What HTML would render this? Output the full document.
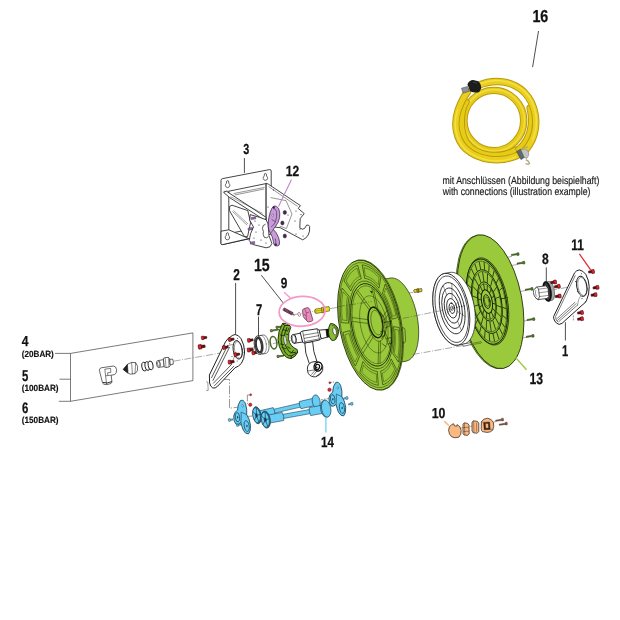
<!DOCTYPE html>
<html lang="de">
<head>
<meta charset="utf-8">
<title>Schlauchaufroller Explosionszeichnung</title>
<style>
html,body{margin:0;padding:0;background:#fff;}
body{width:620px;height:620px;overflow:hidden;}
svg{display:block;font-family:"Liberation Sans",sans-serif;}
text{text-rendering:geometricPrecision;}
</style>
</head>
<body>
<svg width="620" height="620" viewBox="0 0 620 620">
<rect width="620" height="620" fill="#fff"/>
<!-- 05_axes.svg -->
<g fill="none" stroke="#555" stroke-width=".5" stroke-dasharray="7 1.5 1 1.5">
  <path d="M173.6 361.2L254 347.2"/>
  <path d="M262 345.4L300 339"/>
  <path d="M293 314.8L313 311.4M330 308.6L340 307"/>
  <path d="M550 290.4L584 284.4"/>
  <path d="M506 257.6L512 256.4M512 265.4L518 264.4M521 291.4L526 290.4M522 321.4L528 320.4M521 338.2L527 337.2"/>
  <path d="M496 421.6L481 424.4M477 425.2L458 428.6"/>
</g>
<g fill="none" stroke="#444" stroke-width=".55" stroke-dasharray="9 1.5 1.5 1.5">
  <path d="M206.3 381.6L207.8 382.2L208.2 390.4L206.3 390.6" stroke-dasharray="none"/>
  <path d="M222 379.4H229.5V408.2L237.6 407.3"/>
  <path d="M250 395H247.4V404"/>
  <path d="M245.6 416.6L252.4 416"/>
  <path d="M573.4 315.4V320.6" stroke-dasharray="2 1"/>
  <path d="M329.8 382.6L334 382M320.8 399.8L330 398.4" stroke-dasharray="2 1"/>
</g>
<!-- 10_hose.svg -->
<defs>
  <filter id="hb" x="-10%" y="-10%" width="120%" height="120%"><feGaussianBlur stdDeviation=".55"/></filter>
</defs>
<g filter="url(#hb)">
<g fill="none" stroke-linecap="round">
  <!-- inner strand B -->
  <ellipse cx="493.8" cy="120.6" rx="29.9" ry="30.2" stroke="#b99a10" stroke-width="7.4"/>
  <ellipse cx="493.8" cy="120.6" rx="29.9" ry="30.2" stroke="#e6cb18" stroke-width="5.4"/>
  <ellipse cx="494.1" cy="120.3" rx="30.4" ry="30.7" stroke="#f3e04a" stroke-width="1.6" opacity=".8"/>
  <!-- middle strand C -->
  <path d="M466 102C460 112 459.6 130 466 142C476 157 500 159 516 150" stroke="#b99a10" stroke-width="7.2"/>
  <path d="M466 102C460 112 459.6 130 466 142C476 157 500 159 516 150" stroke="#e7cc18" stroke-width="5.2"/>
  <path d="M530 108C534 124 530 140 519 149" stroke="#b99a10" stroke-width="7.2"/>
  <path d="M530 108C534 124 530 140 519 149" stroke="#e7cc18" stroke-width="5.2"/>
  <!-- outer strand A -->
  <path d="M478 85.6C494 78.6 512 80.6 524 92C536 104 539 124 532 140C528 148 524 152 521 154" stroke="#b99a10" stroke-width="7.4"/>
  <path d="M478 85.6C494 78.6 512 80.6 524 92C536 104 539 124 532 140C528 148 524 152 521 154" stroke="#ead01a" stroke-width="5.4"/>
  <path d="M479 84.6C494 77.6 512 79.6 524.6 91.4C536.6 103.4 539.6 123.6 532.6 139.6" stroke="#f4e350" stroke-width="1.6" opacity=".85"/>
  <path d="M517 155.6C500 163 479 160.5 466 149C456 139.5 453.4 124 458.2 110C460.8 102.6 464 96.6 467.4 92" stroke="#b99a10" stroke-width="7.4"/>
  <path d="M517 155.6C500 163 479 160.5 466 149C456 139.5 453.4 124 458.2 110C460.8 102.6 464 96.6 467.4 92" stroke="#ead01a" stroke-width="5.4"/>
  <path d="M516 157C500 164 479 161.5 465.4 149.6C455.4 140 452.8 124 457.6 110" stroke="#f4e350" stroke-width="1.5" opacity=".8"/>
</g>
<!-- black coupling top-left -->
<path d="M461.5 88.2L467.5 86.4L469.4 91.2L463.2 93.2Z" fill="#8d9399" stroke="#3c4044" stroke-width=".5"/>
<path d="M467.4 84.4Q469 80.2 473.2 80L478.2 81.2Q481.6 84 481 88.8L479.2 92Q475 93.4 470.4 91.6Z" fill="#1a1a1a"/>
<path d="M473 82.2L477 83.2" stroke="#555" stroke-width=".6" fill="none"/>
<!-- metal coupling bottom-right -->
<path d="M516.6 151.6L520.4 149.2L524.8 157.2L521 159.6Z" fill="#5d6770" stroke="#2c3238" stroke-width=".5"/>
<path d="M520.8 149.6Q525.2 147.6 527.8 150.8Q530.2 155 526.6 158.4L524.4 157.6Z" fill="#c2c4c0" stroke="#6a6c68" stroke-width=".5"/>
<path d="M524.4 147.6Q526.8 146.2 528.2 148" stroke="#a8a27a" stroke-width="1.1" fill="none"/>
<path d="M525.8 159.6Q528.4 160.6 529.6 163.4Q527.4 164.8 525.6 163.6" stroke="#a8a27a" stroke-width="1.2" fill="none"/>
</g>
<!-- 20_flange_right.py -->
<ellipse cx="489.42" cy="301.93" rx="31.30" ry="67.90" transform="rotate(-10.90 489.42 301.93)" stroke-width=".6" fill="#9aca3b" stroke="#1a2606" stroke-linejoin="round"/>
<ellipse cx="490.60" cy="301.70" rx="31.30" ry="67.90" transform="rotate(-10.90 490.60 301.70)" stroke-width=".8" fill="#9aca3b" stroke="#1a2606" stroke-linejoin="round"/>
<ellipse cx="487.69" cy="301.45" rx="19.80" ry="44.30" transform="rotate(-10.90 487.69 301.45)" fill="#8fbf33" stroke-width=".7" stroke="#16220a" stroke-linejoin="round" stroke-linecap="round"/>
<ellipse cx="486.90" cy="301.60" rx="19.30" ry="43.19" transform="rotate(-10.90 486.90 301.60)" stroke-width="1" fill="#9aca3b" stroke="#16220a" stroke-linejoin="round" stroke-linecap="round"/>
<ellipse cx="486.90" cy="301.60" rx="18.41" ry="41.20" transform="rotate(-10.90 486.90 301.60)" stroke-width=".5" stroke="#16220a" fill="none" stroke-linejoin="round" stroke-linecap="round"/>
<ellipse cx="486.90" cy="301.60" rx="14.45" ry="32.34" transform="rotate(-10.90 486.90 301.60)" stroke-width="0.9" stroke="#16220a" fill="none" stroke-linejoin="round" stroke-linecap="round"/>
<ellipse cx="486.90" cy="301.60" rx="13.66" ry="30.57" transform="rotate(-10.90 486.90 301.60)" stroke-width="0.5" stroke="#16220a" fill="none" stroke-linejoin="round" stroke-linecap="round"/>
<ellipse cx="486.90" cy="301.60" rx="8.91" ry="19.93" transform="rotate(-10.90 486.90 301.60)" stroke-width="0.9" stroke="#16220a" fill="none" stroke-linejoin="round" stroke-linecap="round"/>
<ellipse cx="486.90" cy="301.60" rx="8.12" ry="18.16" transform="rotate(-10.90 486.90 301.60)" stroke-width="0.5" stroke="#16220a" fill="none" stroke-linejoin="round" stroke-linecap="round"/>
<ellipse cx="486.90" cy="301.60" rx="5.35" ry="11.96" transform="rotate(-10.90 486.90 301.60)" stroke-width="1.0" stroke="#16220a" fill="none" stroke-linejoin="round" stroke-linecap="round"/>
<ellipse cx="486.90" cy="301.60" rx="3.17" ry="7.09" transform="rotate(-10.90 486.90 301.60)" stroke-width="0.9" stroke="#16220a" fill="none" stroke-linejoin="round" stroke-linecap="round"/>
<ellipse cx="486.90" cy="301.60" rx="2.18" ry="4.87" transform="rotate(-10.90 486.90 301.60)" stroke-width="0.5" stroke="#16220a" fill="none" stroke-linejoin="round" stroke-linecap="round"/>
<path d="M479.28 262.01L480.62 268.97M484.12 262.48L484.61 269.36M489.14 265.61L488.75 271.94M494.02 271.20L492.77 276.54M498.41 278.86L496.39 282.86M502.02 288.06L499.36 290.44M504.59 298.19L501.48 298.79M505.96 308.55L502.61 307.33M506.03 318.44L502.67 315.48M504.80 327.18L501.65 322.68M502.35 334.18L499.63 328.45M498.84 338.96L496.74 332.39M494.52 341.19L493.18 334.23M489.68 340.72L489.19 333.84M484.66 337.59L485.05 331.26M479.78 332.00L481.03 326.66M475.39 324.34L477.41 320.34M471.78 315.14L474.44 312.76M469.21 305.01L472.32 304.41M467.84 294.65L471.19 295.87M467.77 284.76L471.13 287.72M469.00 276.02L472.15 280.52M471.45 269.02L474.17 274.75M474.96 264.24L477.06 270.81" stroke-width="0.8" stroke="#16220a" fill="none" stroke-linejoin="round" stroke-linecap="round"/>
<path d="M482.62 272.35L483.89 281.08M487.50 274.26L487.32 282.42M492.31 279.46L490.70 286.07M496.47 287.33L493.61 291.59M499.47 296.93L495.72 298.32M500.96 307.09L496.76 305.45M500.75 316.58L496.62 312.11M498.87 324.27L495.30 317.50M495.55 329.23L492.97 320.98M491.18 330.85L489.91 322.12M486.30 328.94L486.48 320.78M481.49 323.74L483.10 317.13M477.33 315.87L480.19 311.61M474.33 306.27L478.08 304.88M472.84 296.11L477.04 297.75M473.05 286.62L477.18 291.09M474.93 278.93L478.50 285.70M478.25 273.97L480.83 282.22" stroke-width="0.8" stroke="#16220a" fill="none" stroke-linejoin="round" stroke-linecap="round"/>
<path d="M483.55 284.20L484.55 289.42M487.26 285.27L487.15 290.17M490.89 289.58L489.69 293.19M493.74 296.27L491.69 297.87M495.23 304.01L492.73 303.29M495.07 311.28L492.62 308.37M493.29 316.63L491.38 312.12M490.25 319.00L489.25 313.78M486.54 317.93L486.65 313.03M482.91 313.62L484.11 310.01M480.06 306.93L482.11 305.33M478.57 299.19L481.07 299.91M478.73 291.92L481.18 294.83M480.51 286.57L482.42 291.08" stroke-width="0.8" stroke="#16220a" fill="none" stroke-linejoin="round" stroke-linecap="round"/>
<!-- 25_disc_white.py -->
<path d="M449.90 272.40 L451.73 272.25 L453.62 272.49 L455.55 273.13 L457.48 274.15 L459.41 275.55 L461.32 277.30 L463.17 279.39 L464.95 281.80 L466.64 284.50 L468.23 287.45 L469.69 290.64 L471.01 294.02 L472.17 297.55 L473.17 301.20 L473.98 304.93 L474.61 308.70 L475.04 312.46 L475.28 316.17 L475.30 319.80 L475.13 323.30 L474.76 326.63 L474.19 329.76 L473.43 332.66 L472.48 335.29 L471.37 337.63 L470.09 339.64 L468.67 341.31 L467.12 342.61 L465.46 343.54 L463.70 344.08 L458.20 345.14 L456.37 345.29 L454.48 345.05 L452.55 344.41 L450.62 343.39 L448.69 341.99 L446.78 340.24 L444.93 338.15 L443.15 335.74 L441.45 333.04 L439.87 330.09 L438.41 326.90 L437.09 323.52 L435.93 319.99 L434.93 316.34 L434.12 312.61 L433.49 308.84 L433.06 305.08 L432.82 301.37 L432.79 297.75 L432.97 294.25 L433.34 290.91 L433.91 287.78 L434.67 284.88 L435.62 282.25 L436.73 279.91 L438.01 277.90 L439.43 276.24 L440.98 274.93 L442.64 274.00 L444.40 273.46Z" stroke-width=".7" fill="#fff" stroke="#151515" stroke-linejoin="round"/>
<ellipse cx="451.30" cy="309.30" rx="17.50" ry="36.50" transform="rotate(-10.90 451.30 309.30)" stroke-width=".8" fill="#fff" stroke="#151515" stroke-linejoin="round"/>
<ellipse cx="451.69" cy="309.22" rx="15.75" ry="33.76" transform="rotate(-10.90 451.69 309.22)" stroke-width=".7" fill="#fff" stroke="#151515" stroke-linejoin="round"/>
<ellipse cx="452.20" cy="308.20" rx="12.20" ry="26.00" transform="rotate(-10.90 452.20 308.20)" stroke-width="0.8" fill="none" stroke="#151515" stroke-linejoin="round" stroke-linecap="round"/>
<ellipse cx="452.10" cy="308.22" rx="9.80" ry="20.50" transform="rotate(-10.90 452.10 308.22)" stroke-width="0.8" fill="none" stroke="#151515" stroke-linejoin="round" stroke-linecap="round"/>
<ellipse cx="452.00" cy="308.24" rx="7.40" ry="15.20" transform="rotate(-10.90 452.00 308.24)" stroke-width="0.8" fill="none" stroke="#151515" stroke-linejoin="round" stroke-linecap="round"/>
<ellipse cx="451.91" cy="308.26" rx="5.00" ry="9.90" transform="rotate(-10.90 451.91 308.26)" stroke-width="0.8" fill="none" stroke="#151515" stroke-linejoin="round" stroke-linecap="round"/>
<ellipse cx="451.91" cy="308.26" rx="2.70" ry="5.30" transform="rotate(-10.90 451.91 308.26)" stroke-width="0.8" fill="none" stroke="#151515" stroke-linejoin="round" stroke-linecap="round"/>
<ellipse cx="451.91" cy="308.26" rx="1.10" ry="2.20" transform="rotate(-10.90 451.91 308.26)" stroke-width="0.7" fill="none" stroke="#151515" stroke-linejoin="round" stroke-linecap="round"/>
<path d="M452.06 298.18L451.84 283.59M453.97 306.41L458.11 302.25M457.59 311.61L464.98 316.29M457.56 321.29L461.42 330.71M446.89 295.05L443.07 285.59M450.42 309.95L447.44 312.87" stroke-width=".45" fill="none" stroke="#151515" stroke-linejoin="round" stroke-linecap="round"/>
<circle cx="451.6" cy="303.2" r=".8" fill="#222"/>
<path d="M462.6 344.2L470.8 342.7Q472.2 343.4 471 344.6L463.2 346.3Z" stroke-width=".6" fill="#fff" stroke="#151515" stroke-linejoin="round"/>
<path d="M471 343.6L481 341.6Q482.6 342.3 481 343.2L471.6 344.6Z" fill="#9aca3b" stroke-width=".45" stroke="#25360a" stroke-linejoin="round" stroke-linecap="round"/>
<!-- 30_reel_left.py -->
<path d="M390.20 278.06 L392.22 277.91 L394.30 278.22 L396.42 278.97 L398.56 280.18 L400.70 281.81 L402.81 283.86 L404.87 286.30 L406.86 289.11 L408.75 292.25 L410.53 295.69 L412.17 299.39 L413.66 303.31 L414.98 307.41 L416.11 311.65 L417.05 315.97 L417.79 320.33 L418.30 324.68 L418.60 328.98 L418.68 333.18 L418.53 337.22 L418.15 341.08 L417.56 344.70 L416.76 348.04 L415.75 351.07 L414.55 353.76 L413.18 356.07 L411.63 357.98 L409.94 359.47 L408.13 360.53 L406.20 361.14 L384.60 365.30 L395.45 320.13 L368.60 282.22Z" stroke-width=".7" fill="#9aca3b" stroke="#1a2606" stroke-linejoin="round"/>
<ellipse cx="370.98" cy="324.91" rx="30.50" ry="66.00" transform="rotate(-10.90 370.98 324.91)" stroke-width=".6" fill="#9aca3b" stroke="#1a2606" stroke-linejoin="round"/>
<ellipse cx="370.00" cy="325.10" rx="30.50" ry="66.00" transform="rotate(-10.90 370.00 325.10)" stroke-width=".8" stroke="#1a2606" fill="#9aca3b" stroke-linejoin="round"/>
<ellipse cx="370.13" cy="325.07" rx="29.34" ry="63.49" transform="rotate(-10.90 370.13 325.07)" stroke-width=".5" fill="none" stroke="#25360a" stroke-linejoin="round" stroke-linecap="round"/>
<path d="M362.55 264.93 L364.35 265.21 L366.17 265.73 L368.00 266.46 L369.85 267.42 L371.69 268.60 L373.53 269.99 L375.36 271.58 L377.17 273.38 L378.96 275.38 L380.71 277.56 L379.06 288.21 L377.70 286.52 L376.32 284.97 L374.93 283.58 L373.51 282.35 L372.09 281.27 L370.66 280.36 L369.24 279.62 L367.82 279.05 L366.41 278.66 L365.02 278.44Z" stroke-width=".65" fill="#97c738" stroke="#25360a" stroke-linejoin="round" stroke-linecap="round"/>
<path d="M364.41 267.71 L365.87 268.07 L367.34 268.58 L368.81 269.24 L370.29 270.05 L371.77 271.01 L373.25 272.11 L374.71 273.35 L376.17 274.73 L377.61 276.24 L379.03 277.88 L378.21 284.72 L377.00 283.32 L375.77 282.03 L374.53 280.86 L373.27 279.80 L372.01 278.86 L370.75 278.04 L369.49 277.35 L368.23 276.79 L366.98 276.35 L365.74 276.04Z" stroke-width=".45" fill="none" stroke="#25360a" stroke-linejoin="round" stroke-linecap="round"/>
<path d="M385.32 284.51 L386.88 287.32 L388.39 290.27 L389.83 293.36 L391.19 296.57 L392.47 299.88 L393.67 303.29 L394.78 306.78 L395.80 310.34 L396.72 313.96 L397.54 317.62 L392.07 319.17 L391.43 316.34 L390.72 313.54 L389.94 310.79 L389.08 308.09 L388.15 305.46 L387.16 302.89 L386.10 300.42 L384.99 298.03 L383.83 295.75 L382.62 293.57Z" stroke-width=".65" fill="#97c738" stroke="#25360a" stroke-linejoin="round" stroke-linecap="round"/>
<path d="M386.03 288.41 L387.25 290.75 L388.42 293.18 L389.55 295.69 L390.63 298.28 L391.65 300.94 L392.61 303.67 L393.52 306.45 L394.37 309.29 L395.15 312.16 L395.87 315.07 L392.57 316.45 L391.96 313.96 L391.29 311.51 L390.57 309.09 L389.80 306.72 L388.97 304.39 L388.10 302.12 L387.18 299.91 L386.22 297.77 L385.22 295.70 L384.18 293.70Z" stroke-width=".45" fill="none" stroke="#25360a" stroke-linejoin="round" stroke-linecap="round"/>
<path d="M399.26 327.83 L399.68 331.52 L399.99 335.19 L400.19 338.82 L400.27 342.40 L400.24 345.91 L400.09 349.34 L399.83 352.68 L399.46 355.92 L398.98 359.04 L398.39 362.03 L392.73 353.49 L393.18 351.18 L393.55 348.77 L393.84 346.27 L394.04 343.69 L394.15 341.04 L394.18 338.32 L394.11 335.56 L393.96 332.75 L393.72 329.92 L393.40 327.06Z" stroke-width=".65" fill="#97c738" stroke="#25360a" stroke-linejoin="round" stroke-linecap="round"/>
<path d="M398.48 330.56 L398.75 333.50 L398.95 336.43 L399.07 339.32 L399.11 342.17 L399.08 344.98 L398.97 347.74 L398.78 350.43 L398.52 353.06 L398.19 355.62 L397.78 358.09 L394.20 353.15 L394.55 351.04 L394.84 348.86 L395.06 346.62 L395.22 344.32 L395.31 341.96 L395.34 339.57 L395.30 337.13 L395.20 334.66 L395.03 332.17 L394.80 329.66Z" stroke-width=".45" fill="none" stroke="#25360a" stroke-linejoin="round" stroke-linecap="round"/>
<path d="M396.22 369.53 L395.24 371.94 L394.17 374.17 L393.01 376.22 L391.77 378.07 L390.44 379.72 L389.04 381.16 L387.56 382.40 L386.02 383.41 L384.42 384.21 L382.76 384.78 L380.65 371.08 L381.93 370.64 L383.16 370.02 L384.35 369.24 L385.49 368.29 L386.58 367.17 L387.61 365.89 L388.57 364.46 L389.47 362.88 L390.29 361.16 L391.05 359.29Z" stroke-width=".65" fill="#97c738" stroke="#25360a" stroke-linejoin="round" stroke-linecap="round"/>
<path d="M394.48 369.47 L393.65 371.29 L392.75 373.00 L391.79 374.57 L390.77 376.02 L389.70 377.33 L388.58 378.50 L387.42 379.53 L386.20 380.41 L384.95 381.15 L383.65 381.74 L382.15 373.32 L383.25 372.82 L384.33 372.19 L385.36 371.44 L386.36 370.56 L387.32 369.56 L388.23 368.44 L389.09 367.21 L389.91 365.86 L390.68 364.41 L391.39 362.85Z" stroke-width=".45" fill="none" stroke="#25360a" stroke-linejoin="round" stroke-linecap="round"/>
<path d="M377.97 385.17 L376.17 384.89 L374.35 384.38 L372.51 383.64 L370.67 382.68 L368.82 381.51 L366.98 380.12 L365.15 378.52 L363.34 376.72 L361.56 374.72 L359.81 372.54 L362.90 361.62 L364.26 363.30 L365.63 364.85 L367.03 366.24 L368.45 367.48 L369.87 368.55 L371.30 369.46 L372.72 370.20 L374.14 370.77 L375.55 371.16 L376.94 371.38Z" stroke-width=".65" fill="#97c738" stroke="#25360a" stroke-linejoin="round" stroke-linecap="round"/>
<path d="M376.38 382.34 L374.92 381.98 L373.45 381.47 L371.98 380.80 L370.50 379.99 L369.02 379.04 L367.55 377.94 L366.08 376.70 L364.62 375.32 L363.18 373.81 L361.76 372.17 L363.47 365.16 L364.69 366.56 L365.92 367.85 L367.16 369.02 L368.41 370.08 L369.67 371.02 L370.93 371.83 L372.19 372.52 L373.45 373.09 L374.70 373.53 L375.94 373.83Z" stroke-width=".45" fill="none" stroke="#25360a" stroke-linejoin="round" stroke-linecap="round"/>
<path d="M355.20 365.60 L353.63 362.78 L352.13 359.83 L350.69 356.74 L349.33 353.53 L348.04 350.22 L346.85 346.81 L345.73 343.32 L344.72 339.76 L343.80 336.14 L342.98 332.48 L349.89 330.65 L350.53 333.48 L351.24 336.28 L352.02 339.03 L352.88 341.73 L353.81 344.37 L354.80 346.93 L355.85 349.41 L356.96 351.79 L358.13 354.08 L359.34 356.25Z" stroke-width=".65" fill="#97c738" stroke="#25360a" stroke-linejoin="round" stroke-linecap="round"/>
<path d="M354.77 361.64 L353.55 359.30 L352.37 356.87 L351.24 354.36 L350.17 351.77 L349.14 349.10 L348.18 346.38 L347.27 343.59 L346.42 340.76 L345.64 337.89 L344.92 334.98 L349.11 333.43 L349.72 335.91 L350.39 338.36 L351.11 340.78 L351.89 343.16 L352.71 345.48 L353.58 347.75 L354.50 349.96 L355.46 352.11 L356.47 354.18 L357.51 356.18Z" stroke-width=".45" fill="none" stroke="#25360a" stroke-linejoin="round" stroke-linecap="round"/>
<path d="M341.25 322.27 L340.83 318.58 L340.53 314.91 L340.33 311.28 L340.25 307.70 L340.28 304.19 L340.42 300.76 L340.68 297.42 L341.05 294.18 L341.53 291.06 L342.12 288.07 L349.23 296.33 L348.78 298.64 L348.40 301.05 L348.12 303.55 L347.92 306.13 L347.81 308.79 L347.78 311.50 L347.85 314.27 L348.00 317.07 L348.24 319.91 L348.56 322.76Z" stroke-width=".65" fill="#97c738" stroke="#25360a" stroke-linejoin="round" stroke-linecap="round"/>
<path d="M342.31 319.49 L342.04 316.55 L341.84 313.62 L341.72 310.73 L341.68 307.87 L341.71 305.07 L341.82 302.31 L342.01 299.61 L342.27 296.99 L342.60 294.43 L343.01 291.96 L347.48 296.73 L347.13 298.84 L346.85 301.02 L346.62 303.26 L346.47 305.56 L346.37 307.91 L346.35 310.31 L346.38 312.74 L346.48 315.21 L346.65 317.70 L346.88 320.22Z" stroke-width=".45" fill="none" stroke="#25360a" stroke-linejoin="round" stroke-linecap="round"/>
<path d="M344.30 280.57 L345.27 278.16 L346.34 275.93 L347.50 273.88 L348.75 272.03 L350.08 270.38 L351.48 268.94 L352.96 267.70 L354.50 266.69 L356.10 265.90 L357.75 265.33 L361.31 278.75 L360.03 279.19 L358.80 279.80 L357.61 280.58 L356.46 281.54 L355.38 282.65 L354.35 283.93 L353.39 285.36 L352.49 286.94 L351.67 288.67 L350.91 290.53Z" stroke-width=".65" fill="#97c738" stroke="#25360a" stroke-linejoin="round" stroke-linecap="round"/>
<path d="M346.31 280.58 L347.14 278.76 L348.04 277.05 L349.00 275.47 L350.02 274.03 L351.09 272.72 L352.21 271.55 L353.38 270.52 L354.59 269.63 L355.85 268.90 L357.14 268.31 L359.53 276.55 L358.43 277.05 L357.36 277.68 L356.32 278.44 L355.32 279.32 L354.37 280.32 L353.46 281.43 L352.59 282.67 L351.77 284.01 L351.01 285.47 L350.29 287.02Z" stroke-width=".45" fill="none" stroke="#25360a" stroke-linejoin="round" stroke-linecap="round"/>
<ellipse cx="371.12" cy="324.88" rx="20.59" ry="44.55" transform="rotate(-10.90 371.12 324.88)" stroke-width=".6" fill="none" stroke="#25360a" stroke-linejoin="round" stroke-linecap="round"/>
<ellipse cx="371.25" cy="324.86" rx="19.37" ry="41.91" transform="rotate(-10.90 371.25 324.86)" stroke-width=".9" stroke="#1d2a08" fill="none" stroke-linejoin="round" stroke-linecap="round"/>
<ellipse cx="371.57" cy="324.80" rx="18.30" ry="39.60" transform="rotate(-10.90 371.57 324.80)" stroke-width=".45" fill="none" stroke="#25360a" stroke-linejoin="round" stroke-linecap="round"/>
<path d="M371.74 287.93L375.86 306.86M373.66 289.30L377.78 308.23M386.79 311.08L382.88 316.68M387.91 314.76L384.00 320.36M390.44 344.54L384.98 331.92M389.90 347.77L384.45 335.14M379.92 363.13L380.57 341.10M378.14 363.47L378.79 341.44M363.17 352.84L372.98 337.31M361.48 350.04L371.29 334.52M352.79 321.43L367.92 323.41M352.47 317.59L367.60 319.59M356.61 292.54L369.20 309.85M357.89 290.56L370.48 307.88" stroke-width=".55" fill="none" stroke="#25360a" stroke-linejoin="round" stroke-linecap="round"/>
<ellipse cx="373.88" cy="324.35" rx="13.42" ry="29.04" transform="rotate(-10.90 373.88 324.35)" stroke-width=".45" fill="none" stroke="#25360a" stroke-linejoin="round" stroke-linecap="round"/>
<ellipse cx="376.34" cy="323.88" rx="8.24" ry="17.82" transform="rotate(-10.90 376.34 323.88)" stroke-width=".5" fill="none" stroke="#25360a" stroke-linejoin="round" stroke-linecap="round"/>
<ellipse cx="375.60" cy="322.60" rx="7.00" ry="15.40" transform="rotate(-10.90 375.60 322.60)" stroke-width="1.3" stroke="#161f05" fill="#9aca3b" stroke-linejoin="round" stroke-linecap="round"/>
<ellipse cx="376.60" cy="322.60" rx="5.40" ry="12.60" transform="rotate(-10.90 376.60 322.60)" stroke-width=".5" fill="none" stroke="#25360a" stroke-linejoin="round" stroke-linecap="round"/>
<path d="M380.6 312.6L384.8 318.8L386.6 326.6L385.4 333.6L381.6 338.6M383.6 322.6L388.6 321.6L389.4 326.4L385.8 327.6M380.6 331.6L384.2 330.6L385.2 335.2L382 336.6M386.6 338.6L391.4 337.4L392 343L388 344M382 343.6L386 346.6" stroke-width=".6" stroke="#1d2a08" fill="none" stroke-linejoin="round" stroke-linecap="round"/>
<path d="M369.6 290.6L372.6 291.8L371.8 293.4Z" fill="#161f05"/>
<path d="M402.4 327.6Q404.6 327 405 330L405.6 340.6Q405.2 343.6 403.2 343.2" stroke-width=".6" fill="none" stroke="#25360a" stroke-linejoin="round" stroke-linecap="round"/>
<!-- 35_axes_over.svg -->
<g fill="none" stroke="#555" stroke-width=".5" stroke-dasharray="7 1.5 1 1.5">
  <path d="M402.7 318.4L450.5 308.7"/>
  <path d="M412.8 354.5L462.6 345.6"/>
  <path d="M409 293L413.6 292.2"/>
  <path d="M337.9 306.6L371.8 301.6" stroke="#33470f" stroke-width=".45"/>
</g>
<!-- 40_bracket.svg -->
<g stroke-width=".8" fill="#fff" stroke="#151515" stroke-linejoin="round">
  <!-- wall plate -->
  <path d="M222.6 178.6L269.6 169.6Q271.2 169.4 271.2 171V234L222.6 244.6Q221 244.9 221 243.4V180.4Q221 178.9 222.6 178.6Z"/>
  <!-- top bar lower edge / opening -->
  <path d="M228.8 191.2L266 183.6V226L228.8 233.6Z" fill="#fff"/>
  <path d="M223.6 191.4L228.8 191.2M233.5 193.6L264.6 187.4M234.6 195L264.2 189"  fill="none" stroke-width=".45"/>
  <!-- far side plate (right arm) -->
  <path d="M266.2 183.2L268.4 184.2L300.4 205.6L298.2 208.4L304.2 213.6L300.2 218.6L299.8 227.8Q302.6 230.4 304.6 228.4L306.6 225.2Q308.4 224.2 309.6 226.4Q310.2 231.4 308.2 235Q306 238.8 302.6 239.8L280 227.6L266.2 226.4Z"/>
  <path d="M268.6 186.6L297.6 206.4" fill="none" stroke-width=".45"/>
  <path d="M270.6 197.6L286 200.6L292 214L286.4 228.6L279.6 226" fill="none" stroke-width=".45"/>
  <!-- gusset -->
  <path d="M229.6 206.4L232 205.2L247.8 210.6L250.6 222.6L247.6 236.4L244.6 236.8L229.6 210.8Z"/>
  <path d="M232.4 211.4L247.2 225.2M233.4 210.4L248 224" fill="none" stroke-width=".4"/>
  <!-- diagonal brace -->
  <path d="M223.6 192.4L226.4 191.2L266.2 217.4L264.8 220.6L256 214.6L229.6 197.6Z"/>
  <path d="M230.4 196.6L262.6 213.4" fill="none" stroke-width=".4"/>
  <!-- bottom bar -->
  <path d="M221 231.2L228.8 229.8L248.8 238.6L222.6 244.6Q221 244.9 221 243.4Z"/>
  <!-- near side plate -->
  <path d="M250.2 214.6L259.4 217.3L266.1 219.7L268.1 224L269 235.7L271.9 243.4L270 246.8L266.1 247.8L252.6 244.4L249.2 240.5L250.6 233.7L253.5 227L249.7 220.2Z"/>
  <path d="M263.2 225.6Q261.6 228.6 263.4 231.4Q262.4 234.6 264.4 237.4Q266.6 238.6 268.6 236.6M263.2 225.6L265.6 224.2" fill="none" stroke-width=".7"/>
</g>
<!-- keyholes -->
<g stroke-width=".65" fill="#fff" stroke="#151515" stroke-linejoin="round">
  <path d="M226.7 181.0Q227.6 180.0 228.5 181.0L228.8 183.2Q230.0 184.2 229.8 185.8Q229.2 187.6 227.6 187.6Q226.0 187.6 225.4 185.8Q225.2 184.2 226.4 183.2Z"/>
  <path d="M264.5 173.8Q265.4 172.8 266.3 173.8L266.6 176.0Q267.8 177.0 267.6 178.6Q267.0 180.4 265.4 180.4Q263.8 180.4 263.2 178.6Q263.0 177.0 264.2 176.0Z"/>
  <path d="M226.5 233.2Q227.4 232.2 228.3 233.2L228.6 235.4Q229.8 236.4 229.6 238.0Q229.0 239.8 227.4 239.8Q225.8 239.8 225.2 238.0Q225.0 236.4 226.2 235.4Z"/>
</g>
<!-- small holes on plates -->
<g fill="#222">
  <circle cx="255" cy="221" r=".6"/><circle cx="259" cy="225" r=".6"/><circle cx="256" cy="232" r=".6"/><circle cx="261" cy="240" r=".6"/><circle cx="266" cy="243" r=".6"/><circle cx="254" cy="238" r=".6"/>
  <circle cx="296" cy="211" r=".6"/><circle cx="301" cy="214.6" r=".6"/><circle cx="295" cy="221" r=".6"/><circle cx="300" cy="229" r=".6"/><circle cx="296" cy="234" r=".6"/><circle cx="303" cy="236" r=".6"/><circle cx="288" cy="215" r=".6"/>
  <circle cx="273.5" cy="190" r=".6"/><circle cx="268" cy="207" r=".6"/>
</g>
<!-- purple lever (12) -->
<g fill="#c89cd8" stroke="#3a1f4c" stroke-width=".75" stroke-linejoin="round">
  <path d="M273.8 206Q276.6 205.4 278.6 208.4Q280.4 212.6 279.6 217.6Q278.6 222.6 275.6 226.4Q273.8 228.4 273.4 229.4Q276.6 232.4 278.6 237.6Q280.2 242.4 279.2 245Q277.4 246.6 275.2 245.8Q273.6 244.8 273.4 241.6Q272.6 236.4 270.4 233.2Q268.4 230.6 268.2 226.4Q268 218.6 270.2 212.2Q271.8 207.4 273.8 206Z"/>
  <path d="M273 208.4Q275.6 208.4 276.6 211.6Q277.2 216.6 275.6 221.4Q274 225.4 271.2 226.8M270.4 233.2Q272.6 231.4 273.4 229.4M275.2 238.4Q276.6 242 275.2 245.8M271.6 219.4L275.4 221.8" fill="none" stroke-width=".6"/>
  <ellipse cx="272.8" cy="215.2" rx=".8" ry="1.3" fill="#fff" stroke-width=".45"/>
  <path d="M272.6 206.8L274.6 206.2L275 208.2L273 208.6Z" fill="#3a1f4c" stroke="none"/>
  <path d="M274.4 244L276.6 243.6L277 245.6L275 246Z" fill="#3a1f4c" stroke="none"/>
</g>
<!-- purple screws / rivets -->
<g fill="#9a6cae" stroke="#3a1f48" stroke-width=".45">
  <path d="M251.2 217.6L255.6 216.8L255.8 218.8L251.4 219.6Z"/>
  <path d="M248 228.2L252.4 227.4L252.6 229.4L248.2 230.2Z"/>
  <path d="M250.2 242.2L254.6 241.4L254.8 243.4L250.4 244.2Z"/>
  <ellipse cx="284.8" cy="212.4" rx="1.7" ry="2" fill="#3f2a4a"/>
  <ellipse cx="282.4" cy="223" rx="1.7" ry="2" fill="#3f2a4a"/>
  <ellipse cx="284.8" cy="236" rx="1.7" ry="2" fill="#3f2a4a"/>
</g>
<!-- 50_left_parts.py -->
<path d="M235.1 334.5Q238.6 334.9 241 338.6Q244.4 344.6 244.6 352Q244.4 359 241.4 363.4Q238.6 366.6 235 367.8L217.6 386.2Q215.4 388.6 212.8 388Q210.4 386.8 209.6 383L209.4 375L225.4 342Q227.6 338.4 230.4 336.8Q232.8 334.9 235.1 334.5Z" stroke-width=".95" fill="#fff" stroke="#151515" stroke-linejoin="round"/>
<ellipse cx="237.70" cy="349.80" rx="4.50" ry="9.40" transform="rotate(-9.00 237.70 349.80)" stroke-width=".9" fill="#fff" stroke="#151515" stroke-linejoin="round"/>
<ellipse cx="238.30" cy="349.90" rx="3.70" ry="8.40" transform="rotate(-9.00 238.30 349.90)" stroke-width=".4" fill="none" stroke="#151515" stroke-linejoin="round" stroke-linecap="round"/>
<path d="M227.6 345.6L211.6 377.6M229.4 347.4L213 380.4M233.6 366.4L214.6 385.6M231.4 364.6L213.4 383.2" stroke-width=".7" fill="none" stroke="#151515" stroke-linejoin="round" stroke-linecap="round"/>
<path d="M227.6 345.6L232.4 344.6M231.4 364.6L234.6 356" stroke-width=".45" fill="none" stroke="#151515" stroke-linejoin="round" stroke-linecap="round"/>
<g fill="#333"><circle cx="237.6" cy="338.2" r=".5"/><circle cx="243" cy="352.2" r=".5"/><circle cx="237.2" cy="361" r=".5"/><circle cx="229.6" cy="343.8" r=".5"/><circle cx="232" cy="356.4" r=".5"/></g>
<g transform="translate(204.1 337.7) rotate(-8) scale(1.0)"><path d="M-.2 1L2.7 .9L2.7 -.9L-.2 -1Z" fill="#a01418" stroke="#2a0404" stroke-width=".5"/><path d="M.7 -1V1M1.6 -1V1" fill="none" stroke="#2a0404" stroke-width=".45"/><path d="M-2.5 -1.7Q-3.1 0 -2.5 1.7L-.2 1.7L-.2 -1.7Z" fill="#ec2028" stroke="#2a0404" stroke-width=".5"/></g>
<g transform="translate(201.7 346.6) rotate(-8) scale(1.25)"><path d="M-.2 1L2.7 .9L2.7 -.9L-.2 -1Z" fill="#a01418" stroke="#2a0404" stroke-width=".5"/><path d="M.7 -1V1M1.6 -1V1" fill="none" stroke="#2a0404" stroke-width=".45"/><path d="M-2.5 -1.7Q-3.1 0 -2.5 1.7L-.2 1.7L-.2 -1.7Z" fill="#ec2028" stroke="#2a0404" stroke-width=".5"/></g>
<g transform="translate(231.2 339.4) rotate(-8) scale(1.05)"><path d="M-.2 1L2.7 .9L2.7 -.9L-.2 -1Z" fill="#a01418" stroke="#2a0404" stroke-width=".5"/><path d="M.7 -1V1M1.6 -1V1" fill="none" stroke="#2a0404" stroke-width=".45"/><path d="M-2.5 -1.7Q-3.1 0 -2.5 1.7L-.2 1.7L-.2 -1.7Z" fill="#ec2028" stroke="#2a0404" stroke-width=".5"/></g>
<g transform="translate(225.4 347.3) rotate(-8) scale(1.05)"><path d="M-.2 1L2.7 .9L2.7 -.9L-.2 -1Z" fill="#a01418" stroke="#2a0404" stroke-width=".5"/><path d="M.7 -1V1M1.6 -1V1" fill="none" stroke="#2a0404" stroke-width=".45"/><path d="M-2.5 -1.7Q-3.1 0 -2.5 1.7L-.2 1.7L-.2 -1.7Z" fill="#ec2028" stroke="#2a0404" stroke-width=".5"/></g>
<g transform="translate(236.8 354.4) rotate(-8) scale(1.05)"><path d="M-.2 1L2.7 .9L2.7 -.9L-.2 -1Z" fill="#a01418" stroke="#2a0404" stroke-width=".5"/><path d="M.7 -1V1M1.6 -1V1" fill="none" stroke="#2a0404" stroke-width=".45"/><path d="M-2.5 -1.7Q-3.1 0 -2.5 1.7L-.2 1.7L-.2 -1.7Z" fill="#ec2028" stroke="#2a0404" stroke-width=".5"/></g>
<g transform="translate(231.2 361.9) rotate(-8) scale(1.1)"><path d="M-.2 1L2.7 .9L2.7 -.9L-.2 -1Z" fill="#a01418" stroke="#2a0404" stroke-width=".5"/><path d="M.7 -1V1M1.6 -1V1" fill="none" stroke="#2a0404" stroke-width=".45"/><path d="M-2.5 -1.7Q-3.1 0 -2.5 1.7L-.2 1.7L-.2 -1.7Z" fill="#ec2028" stroke="#2a0404" stroke-width=".5"/></g>
<g transform="translate(250.3 340.2) rotate(-8) scale(1.05)"><path d="M-.2 1L2.7 .9L2.7 -.9L-.2 -1Z" fill="#a01418" stroke="#2a0404" stroke-width=".5"/><path d="M.7 -1V1M1.6 -1V1" fill="none" stroke="#2a0404" stroke-width=".45"/><path d="M-2.5 -1.7Q-3.1 0 -2.5 1.7L-.2 1.7L-.2 -1.7Z" fill="#ec2028" stroke="#2a0404" stroke-width=".5"/></g>
<g transform="translate(250.3 349.8) rotate(-8) scale(1.1)"><path d="M-.2 1L2.7 .9L2.7 -.9L-.2 -1Z" fill="#a01418" stroke="#2a0404" stroke-width=".5"/><path d="M.7 -1V1M1.6 -1V1" fill="none" stroke="#2a0404" stroke-width=".45"/><path d="M-2.5 -1.7Q-3.1 0 -2.5 1.7L-.2 1.7L-.2 -1.7Z" fill="#ec2028" stroke="#2a0404" stroke-width=".5"/></g>
<g transform="translate(254.8 352.7) rotate(-8) scale(1.05)"><path d="M-.2 1L2.7 .9L2.7 -.9L-.2 -1Z" fill="#a01418" stroke="#2a0404" stroke-width=".5"/><path d="M.7 -1V1M1.6 -1V1" fill="none" stroke="#2a0404" stroke-width=".45"/><path d="M-2.5 -1.7Q-3.1 0 -2.5 1.7L-.2 1.7L-.2 -1.7Z" fill="#ec2028" stroke="#2a0404" stroke-width=".5"/></g>
<path d="M263.31 334.99 L264.16 335.05 L265.03 335.46 L265.89 336.21 L266.70 337.26 L267.42 338.59 L268.04 340.12 L268.52 341.82 L268.86 343.60 L269.03 345.41 L269.03 347.17 L268.86 348.82 L268.53 350.29 L268.04 351.52 L267.43 352.48 L266.70 353.12 L265.89 353.41 L259.99 354.41 L259.14 354.35 L258.27 353.94 L257.41 353.19 L256.60 352.14 L255.88 350.81 L255.26 349.28 L254.78 347.58 L254.44 345.80 L254.27 343.99 L254.27 342.23 L254.44 340.58 L254.77 339.11 L255.26 337.88 L255.87 336.92 L256.60 336.28 L257.41 335.99Z" stroke-width=".6" fill="#fff" stroke="#151515" stroke-linejoin="round"/>
<ellipse cx="262.04" cy="344.56" rx="4.30" ry="9.30" transform="rotate(-8.00 262.04 344.56)" stroke-width=".4" fill="none" stroke="#151515" stroke-linejoin="round" stroke-linecap="round"/>
<ellipse cx="258.70" cy="345.20" rx="4.30" ry="9.30" transform="rotate(-8.00 258.70 345.20)" stroke-width=".6" fill="#fff" stroke="#151515" stroke-linejoin="round"/>
<ellipse cx="258.90" cy="345.16" rx="3.00" ry="7.30" transform="rotate(-8.00 258.90 345.16)" stroke-width="2.2" stroke="#1a1a1a" fill="none" stroke-linejoin="round" stroke-linecap="round"/>
<ellipse cx="258.90" cy="345.16" rx="3.00" ry="7.30" transform="rotate(-8.00 258.90 345.16)" stroke-width=".5" stroke="#888" stroke-dasharray="1 1" fill="none" stroke-linejoin="round" stroke-linecap="round"/>
<ellipse cx="273.50" cy="342.70" rx="3.30" ry="6.30" transform="rotate(-8.00 273.50 342.70)" stroke="#476a1e" stroke-width="1.5" fill="none" stroke-linejoin="round" stroke-linecap="round"/>
<g transform="translate(270.6 330.8) rotate(-9)"><path d="M0 -1.1Q-.6 0 0 1.1L1.6 1.1L1.6 .55L8 .5L8 -.5L1.6 -.55L1.6 -1.1Z" fill="#6f9f2a" stroke="#1c2a06" stroke-width=".55"/></g>
<g transform="translate(276.2 327.4) rotate(-9)"><path d="M0 -1.1Q-.6 0 0 1.1L1.6 1.1L1.6 .55L7 .5L7 -.5L1.6 -.55L1.6 -1.1Z" fill="#6f9f2a" stroke="#1c2a06" stroke-width=".55"/></g>
<g transform="translate(277.2 356.6) rotate(-9)"><path d="M0 -1.1Q-.6 0 0 1.1L1.6 1.1L1.6 .55L7 .5L7 -.5L1.6 -.55L1.6 -1.1Z" fill="#6f9f2a" stroke="#1c2a06" stroke-width=".55"/></g>
<g transform="translate(284.2 354.4) rotate(-9)"><path d="M0 -1.1Q-.6 0 0 1.1L1.6 1.1L1.6 .55L6 .5L6 -.5L1.6 -.55L1.6 -1.1Z" fill="#6f9f2a" stroke="#1c2a06" stroke-width=".55"/></g>
<path d="M282.6 323.4Q286.6 322.6 289.6 325.4L290.8 327.4Q288 332.6 288.6 339.6Q290 346.4 297.2 349.6L297.6 352.4Q295.4 357.2 291 358.6Q286.4 358.8 282.6 353.4Q278.4 346.8 278 339.4Q278 330.6 282.6 323.4Z" fill="#7db22e" stroke="#182404" stroke-width=".9" stroke-linejoin="round"/>
<path d="M284.6 325.6Q281 332 281 339.6Q281.6 347.6 285.6 353.2Q288.6 356.6 291.4 356M286.8 327.6Q284 333 284.2 339.8Q285 347 289 351.6Q292 353.6 295.4 352.4M282.6 323.4L284.6 325.6L289.6 325.4M291 358.6L291.4 356L297.6 352.4" stroke="#182404" stroke-width=".9" fill="none" stroke-linejoin="round" stroke-linecap="round"/>
<ellipse cx="285.30" cy="340.40" rx="1.50" ry="4.60" transform="rotate(-8.00 285.30 340.40)" fill="#d8d8d8" stroke-width=".5" stroke="#25360a" stroke-linejoin="round" stroke-linecap="round"/>
<path d="M283 329.6L286.6 330.6M282 347.4L285.8 348.8M286 334L288 334.6M287.6 346.8L290 348.4M280.4 335L283.6 335.6M280.6 344L284 344.8M289 328L287.4 331.4M293.4 350.4L291 353.4" stroke="#182404" stroke-width=".8" fill="none" stroke-linejoin="round" stroke-linecap="round"/>
<!-- 52_shaft.svg -->
<!-- down pipe + elbow -->
<g stroke-width=".85" stroke="#0e0e0e" fill="#fff" stroke-linejoin="round">
  <path d="M304.8 342.8Q304.6 353 309.4 363.8L316.8 361Q313 351.6 312.6 341.6Z"/>
  <path d="M307.4 369.2Q307.2 364.4 311.6 362.2Q317 360.2 321 363.2Q323.8 366.4 322.6 370.6Q320.6 375.4 315.6 376.8Q310.8 377.2 308.4 373.6Q307.4 371.6 307.4 369.2Z"/>
  <ellipse cx="318" cy="366.6" rx="3.9" ry="4.6" transform="rotate(20 318 366.6)" stroke-width="1.3"/>
  <ellipse cx="317.4" cy="367" rx="2.1" ry="2.6" transform="rotate(20 317.4 367)" stroke-width="1.2"/>
  <path d="M311.4 374.6L316.6 368.6M313.2 375.6L317.8 369.8M308 371L314 370M316 376.6L322 371.6" fill="none" stroke-width=".55"/>
  <circle cx="316.6" cy="367.4" r=".9" fill="#222" stroke="none"/>
</g>
<!-- shaft -->
<g stroke-width=".85" stroke="#0e0e0e" fill="#fff" stroke-linejoin="round">
  <!-- right tube -->
  <path d="M318.6 330.2L328.4 329.4L329.4 336.6L321.2 338.8Z"/>
  <path d="M326 329.5L328.4 329.2L329.4 336.5L327 336.9Z" fill="#111"/>
  <!-- left tube -->
  <path d="M293.6 334.5L301 333.1L302.6 342L294 343.3Z"/>
  <ellipse cx="293.8" cy="338.9" rx="2.4" ry="4.5" transform="rotate(-8 293.8 338.9)"/>
  <ellipse cx="294" cy="338.9" rx="1.7" ry="3.6" transform="rotate(-8 294 338.9)" fill="none" stroke-width=".4"/>
  <!-- hex body -->
  <path d="M300.2 332.4L302.6 331L317 328.8L319.2 330.2L321 338.6L319.6 340L305 343L302.8 342.6Z"/>
  <path d="M302.6 331L304.6 341.6L305 343M304.6 341.6L319.8 338.8M317 328.8L319.6 340M303.4 335.2L318.4 332.6M304 338.4L319 335.6" fill="none" stroke-width=".55"/>
</g>
<!-- green nut -->
<g fill="#86bc34" stroke="#141e04" stroke-width=".9" stroke-linejoin="round">
  <path d="M330.4 323.6Q332.6 323 335.6 325.2Q338.6 328 338.6 331.4Q338.4 336 335.6 339.6Q333.6 341 331.6 340.2Q328.6 337.6 328.4 332.4Q328.4 326.6 330.4 323.6Z"/>
  <path d="M331.8 325.4Q334 325 336.2 327.4Q337.6 329.6 337.4 332.4Q337 336 335 338.4" fill="none" stroke-width=".5"/>
  <ellipse cx="334.6" cy="331.4" rx="1.7" ry="3.8" transform="rotate(-12 334.6 331.4)" fill="#fff" stroke-width=".6"/>
</g>
<!-- 54_part9.svg -->
<!-- spring -->
<g transform="translate(283.4 309) rotate(28)">
  <rect x="0" y="-1.3" width="10.6" height="2.6" rx=".6" fill="#c77aa8" stroke="#3a1428" stroke-width=".6"/>
  <path d="M1 -1.2L1.8 1.2M2.4 -1.2L3.2 1.2M3.8 -1.2L4.6 1.2M5.2 -1.2L6 1.2M6.6 -1.2L7.4 1.2M8 -1.2L8.8 1.2M9.3 -1.2L10 1.2" stroke="#3a1428" stroke-width=".7" fill="none"/>
  <path d="M10.6 0L12.4 .2Q13 1 12.2 1.4" stroke="#333" stroke-width=".45" fill="none"/>
</g>
<ellipse cx="299.2" cy="314.3" rx="1.2" ry="2" transform="rotate(-15 299.2 314.3)" fill="#fff" stroke="#8a4a70" stroke-width=".6"/>
<!-- pink block -->
<g fill="#e68cbc" stroke="#4a2038" stroke-width=".65" stroke-linejoin="round">
  <path d="M302.5 310.2Q302.8 308.8 304.6 308.4L307.4 307.6Q309.2 307.8 309.8 309.6L312.8 319.6Q313 320.8 311.8 321.2L308.4 322Q307 321.6 306.4 320.2L304.8 318.8L303.2 316.4Z"/>
  <path d="M304.6 308.4L306.2 312.8L306.4 320.2M306.2 312.8L309 312.2M304 314.4L306.2 315.8" fill="none" stroke-width=".45"/>
</g>
<!-- yellow pin -->
<g fill="#f2de18" stroke="#3e3a08" stroke-width=".6" stroke-linejoin="round">
  <path d="M314.6 310.2L315.6 309L321.8 308.2L322.4 312.4L316 313.4L314.8 312.6Z"/>
  <path d="M321.6 307.4L323.4 307.2L324 312.6L322.2 312.9Z"/>
  <path d="M323.6 307.2L329 306.6Q329.8 308.6 329.4 311L324 311.8Z"/>
  <path d="M315.6 309L316 313.4M316.4 311L322 310.2" fill="none" stroke-width=".35"/>
</g>
<!-- small yellow pin right of reel -->
<g fill="#e8d21a" stroke="#2e2a06" stroke-width=".6" stroke-linejoin="round">
  <path d="M413.6 290.6L414.4 289.6L417 289.3L417.4 292L414.6 292.5Z"/>
  <path d="M417 288.8L418.4 288.6L418.8 292.4L417.4 292.6Z"/>
  <path d="M418.6 289L421.6 288.6Q422.2 290 421.8 291.6L418.8 292Z"/>
</g>
<!-- 56_blue.py -->
<path d="M272.62 409.51 L300.65 402.97 L301.56 406.87 L273.52 413.40Z" stroke-width=".55" fill="#6acdf4" stroke="#123c50" stroke-linejoin="round"/><path d="M257.62 411.26 L273.20 407.62 L274.63 411.09 L274.88 414.83 L259.30 418.46Z" stroke-width=".6" fill="#6acdf4" stroke="#123c50" stroke-linejoin="round"/><path d="M299.29 401.54 L314.39 398.02 L316.07 405.23 L300.97 408.75 L299.55 405.28Z" stroke-width=".6" fill="#6acdf4" stroke="#123c50" stroke-linejoin="round"/>
<ellipse cx="316.20" cy="401.40" rx="3.90" ry="6.60" transform="rotate(-10.00 316.20 401.40)" stroke-width=".6" fill="#6acdf4" stroke="#123c50" stroke-linejoin="round"/>
<ellipse cx="257.00" cy="415.20" rx="4.10" ry="8.60" transform="rotate(-10.00 257.00 415.20)" stroke-width=".7" fill="#2f6f8c" stroke="#123c50" stroke-linejoin="round"/><ellipse cx="256.51" cy="415.29" rx="3.61" ry="7.57" transform="rotate(-10.00 256.51 415.29)" stroke-width=".5" fill="#6acdf4" stroke="#123c50" stroke-linejoin="round"/><path d="M256.45 413.22L256.31 408.16M257.51 415.09L259.96 414.58M257.19 417.24L258.84 421.99M255.92 416.71L254.50 420.15M255.47 414.22L252.93 411.60" fill="none" stroke="#123c50" stroke-width=".7"/><ellipse cx="256.51" cy="415.29" rx="1.02" ry="2.15" transform="rotate(-10.00 256.51 415.29)" stroke-width=".5" fill="#123c50" stroke="#123c50" stroke-linejoin="round"/>
<path d="M281.66 414.58 L310.57 409.31 L311.33 413.44 L282.41 418.71Z" stroke-width=".55" fill="#6acdf4" stroke="#123c50" stroke-linejoin="round"/><path d="M266.54 415.30 L282.28 412.43 L283.61 416.36 L283.75 420.50 L268.01 423.36Z" stroke-width=".6" fill="#6acdf4" stroke="#123c50" stroke-linejoin="round"/><path d="M309.23 407.52 L324.48 404.75 L325.95 412.81 L310.70 415.59 L309.38 411.66Z" stroke-width=".6" fill="#6acdf4" stroke="#123c50" stroke-linejoin="round"/>
<ellipse cx="325.22" cy="408.79" rx="4.60" ry="8.60" transform="rotate(-10.00 325.22 408.79)" stroke-width=".6" fill="#6acdf4" stroke="#123c50" stroke-linejoin="round"/>
<ellipse cx="326.20" cy="408.60" rx="4.60" ry="8.60" transform="rotate(-10.00 326.20 408.60)" stroke-width=".6" fill="#6acdf4" stroke="#123c50" stroke-linejoin="round"/>
<ellipse cx="265.80" cy="419.60" rx="4.40" ry="8.60" transform="rotate(-10.00 265.80 419.60)" stroke-width=".7" fill="#2f6f8c" stroke="#123c50" stroke-linejoin="round"/><ellipse cx="265.31" cy="419.69" rx="3.87" ry="7.57" transform="rotate(-10.00 265.31 419.69)" stroke-width=".5" fill="#6acdf4" stroke="#123c50" stroke-linejoin="round"/><path d="M265.27 417.62L265.18 412.54M266.39 419.47L269.02 418.93M266.01 421.64L267.73 426.38M264.67 421.12L263.10 424.58M264.21 418.63L261.52 416.03" fill="none" stroke="#123c50" stroke-width=".7"/><ellipse cx="265.31" cy="419.69" rx="1.10" ry="2.15" transform="rotate(-10.00 265.31 419.69)" stroke-width=".5" fill="#123c50" stroke="#123c50" stroke-linejoin="round"/>
<g transform="translate(230.6 419.8) rotate(-10)"><path d="M2.2 -.6L-.2 -.6L-.2 -1.3L-2 -1.3Q-2.5 0 -2 1.3L-.2 1.3L-.2 .6L2.2 .6Z" stroke-width=".45" fill="#6acdf4" stroke="#123c50" stroke-linejoin="round"/></g>
<g transform="translate(238.6 424.8) rotate(-10)"><path d="M2.2 -.6L-.2 -.6L-.2 -1.3L-2 -1.3Q-2.5 0 -2 1.3L-.2 1.3L-.2 .6L2.2 .6Z" stroke-width=".45" fill="#6acdf4" stroke="#123c50" stroke-linejoin="round"/></g>
<g transform="translate(242.1 418.0) scale(1 1.3)"><path d="M-1.6 -13.4Q1.4 -14.6 3.4 -11Q5.2 -6.6 4.6 -2.6Q7.6 .6 8.4 5.6Q8.8 10.4 6.4 12.2Q3.4 12.6 1.2 9.4Q-.4 6.6 -1.2 3.4Q-3.6 5.4 -6.2 4.6Q-8.6 2.6 -8.4 -1.4Q-7.6 -5 -4.6 -6Q-4.6 -10.6 -1.6 -13.4Z" stroke-width=".7" fill="#6acdf4" stroke="#123c50" stroke-linejoin="round"/><ellipse cx="-4.6" cy="-.6" rx="2.2" ry="3.6" transform="rotate(-12 -4.6 -.6)" stroke-width=".6" fill="#6acdf4" stroke="#123c50" stroke-linejoin="round"/><ellipse cx="4.6" cy="6.2" rx="2.4" ry="4.2" transform="rotate(-12 4.6 6.2)" stroke-width=".6" fill="#6acdf4" stroke="#123c50" stroke-linejoin="round"/><ellipse cx="-4.4" cy="-.6" rx=".6" ry="1" fill="#123c50"/><ellipse cx="4.8" cy="6.2" rx=".6" ry="1" fill="#123c50"/><ellipse cx=".6" cy="-9.4" rx=".7" ry="1" fill="#fff" stroke="#123c50" stroke-width=".4"/><path d="M-1 -4.6Q1.6 -3.6 4.6 -2.6M-1.2 3.4Q-.6 0 -1 -4.6" fill="none" stroke="#123c50" stroke-width=".5"/></g>
<g transform="translate(337.3 400.0) scale(1 1.3)"><path d="M-1.6 -13.4Q1.4 -14.6 3.4 -11Q5.2 -6.6 4.6 -2.6Q7.6 .6 8.4 5.6Q8.8 10.4 6.4 12.2Q3.4 12.6 1.2 9.4Q-.4 6.6 -1.2 3.4Q-3.6 5.4 -6.2 4.6Q-8.6 2.6 -8.4 -1.4Q-7.6 -5 -4.6 -6Q-4.6 -10.6 -1.6 -13.4Z" stroke-width=".7" fill="#6acdf4" stroke="#123c50" stroke-linejoin="round"/><ellipse cx="-4.6" cy="-.6" rx="2.2" ry="3.6" transform="rotate(-12 -4.6 -.6)" stroke-width=".6" fill="#6acdf4" stroke="#123c50" stroke-linejoin="round"/><ellipse cx="4.6" cy="6.2" rx="2.4" ry="4.2" transform="rotate(-12 4.6 6.2)" stroke-width=".6" fill="#6acdf4" stroke="#123c50" stroke-linejoin="round"/><ellipse cx="-4.4" cy="-.6" rx=".6" ry="1" fill="#123c50"/><ellipse cx="4.8" cy="6.2" rx=".6" ry="1" fill="#123c50"/><ellipse cx=".6" cy="-9.4" rx=".7" ry="1" fill="#fff" stroke="#123c50" stroke-width=".4"/><path d="M-1 -4.6Q1.6 -3.6 4.6 -2.6M-1.2 3.4Q-.6 0 -1 -4.6" fill="none" stroke="#123c50" stroke-width=".5"/></g>
<g transform="translate(345.8 398.2) rotate(-10)"><path d="M-2.2 -.6L.2 -.6L.2 -1.3L2 -1.3Q2.5 0 2 1.3L.2 1.3L.2 .6L-2.2 .6Z" stroke-width=".45" fill="#6acdf4" stroke="#123c50" stroke-linejoin="round"/></g>
<g transform="translate(350.8 404.0) rotate(-10)"><path d="M-2.2 -.6L.2 -.6L.2 -1.3L2 -1.3Q2.5 0 2 1.3L.2 1.3L.2 .6L-2.2 .6Z" stroke-width=".45" fill="#6acdf4" stroke="#123c50" stroke-linejoin="round"/></g>
<circle cx="250.7" cy="394.7" r="1.0" stroke-width=".35" fill="#e2252b" stroke="#4a0808"/>
<circle cx="250.3" cy="404.8" r="1.7" stroke-width=".35" fill="#e2252b" stroke="#4a0808"/>
<circle cx="329.8" cy="382.7" r="1.0" stroke-width=".35" fill="#e2252b" stroke="#4a0808"/>
<circle cx="329.5" cy="389.8" r="1.8" stroke-width=".35" fill="#e2252b" stroke="#4a0808"/>
<!-- 58_fittings.svg -->
<g stroke-width=".65" fill="#fff" stroke="#151515" stroke-linejoin="round">
  <!-- elbow -->
  <path d="M99.4 370.4Q99.2 368.4 101.2 367.8L113.6 366Q116.2 366.4 116.6 369.6Q116.8 373.4 114.6 374.6L111.2 375.2L112 382.4Q110.2 384.4 106.4 384.6Q103.4 384.6 102.6 383.2Z"/>
  <path d="M104.8 369.2L105.6 375.8L111.2 375.2M105.6 375.8L106.6 384.4M104.8 369.2L110.6 368.4L110.8 372.4L107.6 372.8L107.8 375.4" fill="none" stroke-width=".55"/>
  <path d="M103 382.4Q107 384 111.8 381.6" fill="none" stroke-width=".9"/>
  <!-- nut -->
  <path d="M123.4 369.6L127.6 364.2L131.6 362.4L135.6 362.6L137.6 366.4L137.4 370.8L135 373.6L130.6 374.2L127.6 373Z"/>
  <path d="M123.2 369.4L127.4 364.4L128 372.8Z" fill="#222"/>
  <path d="M131.6 362.4L132.4 374M135.6 362.6L135 373.6" fill="none" stroke-width=".5"/>
  <!-- o-rings -->
  <ellipse cx="144.2" cy="366.6" rx="2.4" ry="4.4" transform="rotate(-8 144.2 366.6)" stroke-width=".9"/>
  <ellipse cx="147.4" cy="366" rx="2.4" ry="4.4" transform="rotate(-8 147.4 366)" stroke-width=".9"/>
  <ellipse cx="150.6" cy="365.4" rx="2.4" ry="4.4" transform="rotate(-8 150.6 365.4)" stroke-width=".9"/>
  <!-- nipple -->
  <path d="M158 360.6L163.6 359.6L164.2 366.6L158.6 367.4Z"/>
  <ellipse cx="158.4" cy="364" rx="1.9" ry="3.5" transform="rotate(-8 158.4 364)"/>
  <ellipse cx="158.6" cy="364" rx="1.1" ry="2.4" transform="rotate(-8 158.6 364)" stroke-width=".45"/>
  <path d="M163.4 358.4L165.2 357.6L168.4 357.4L169.6 358.6L170.2 365.6L169 367L165.6 367.6L164.2 366.8Z"/>
  <path d="M165.2 357.6L166 367.4M168.4 357.4L169 367" fill="none" stroke-width=".45"/>
  <path d="M169.8 359.4L172.6 359Q173.6 361.4 173.2 364.2L170.2 364.8Z"/>
</g>
<!-- 60_right_parts.py -->
<g transform="translate(511.4 255.0) rotate(-8)"><path d="M0 -.6L5.7 -.6L5.7 -1.3L7.5 -1.3Q8.0 0 7.5 1.3L5.7 1.3L5.7 .6L0 .6Z" fill="#547f22" stroke="#1f3208" stroke-width=".5"/></g>
<g transform="translate(517.2 263.6) rotate(-8)"><path d="M0 -.6L5.7 -.6L5.7 -1.3L7.5 -1.3Q8.0 0 7.5 1.3L5.7 1.3L5.7 .6L0 .6Z" fill="#547f22" stroke="#1f3208" stroke-width=".5"/></g>
<g transform="translate(525.4 289.8) rotate(-8)"><path d="M0 -.6L5.7 -.6L5.7 -1.3L7.5 -1.3Q8.0 0 7.5 1.3L5.7 1.3L5.7 .6L0 .6Z" fill="#547f22" stroke="#1f3208" stroke-width=".5"/></g>
<g transform="translate(527.2 320.0) rotate(-8)"><path d="M0 -.6L5.7 -.6L5.7 -1.3L7.5 -1.3Q8.0 0 7.5 1.3L5.7 1.3L5.7 .6L0 .6Z" fill="#547f22" stroke="#1f3208" stroke-width=".5"/></g>
<g transform="translate(526.4 336.8) rotate(-8)"><path d="M0 -.6L5.7 -.6L5.7 -1.3L7.5 -1.3Q8.0 0 7.5 1.3L5.7 1.3L5.7 .6L0 .6Z" fill="#547f22" stroke="#1f3208" stroke-width=".5"/></g>
<path d="M549.10 281.42 L549.84 281.49 L550.61 281.92 L551.38 282.69 L552.12 283.79 L552.80 285.15 L553.40 286.74 L553.89 288.48 L554.25 290.32 L554.48 292.18 L554.55 293.99 L554.47 295.69 L554.25 297.20 L553.88 298.46 L553.39 299.44 L552.79 300.09 L552.10 300.38 L548.90 300.88 L548.16 300.81 L547.39 300.38 L546.62 299.61 L545.88 298.51 L545.20 297.15 L544.60 295.56 L544.11 293.82 L543.75 291.98 L543.52 290.12 L543.45 288.31 L543.53 286.61 L543.75 285.10 L544.12 283.84 L544.61 282.86 L545.21 282.21 L545.90 281.92Z" stroke-width=".6" fill="#a8a8a8" stroke="#444" stroke-linejoin="round"/><ellipse cx="547.40" cy="291.40" rx="3.70" ry="9.60" transform="rotate(-9.00 547.40 291.40)" stroke-width=".6" fill="#a8a8a8" stroke="#444" stroke-linejoin="round"/>
<ellipse cx="547.00" cy="291.50" rx="3.70" ry="9.50" transform="rotate(-9.00 547.00 291.50)" stroke-width="1.6" fill="#3a3a3a" stroke="#111" stroke-linejoin="round"/>
<path d="M535.2 288.4L536.8 287L545.8 285.8L548 288L548.8 296.4L547.2 298.4L538.4 299.6L536.2 298.4Z" stroke-width=".7" fill="#fff" stroke="#151515" stroke-linejoin="round"/>
<path d="M533.4 292.6Q533.2 289.4 535.2 288.4L536.8 287L538.6 289.2L539.4 296.6L538.4 299.6L536.2 298.4Q533.8 296.6 533.4 292.6Z" stroke-width=".7" fill="#fff" stroke="#151515" stroke-linejoin="round"/>
<path d="M538.6 289.2L547.4 288M539.4 296.6L548.2 295.4M539 292.8L547.8 291.6M535.6 290.6Q535 293.4 536.2 296.4" stroke-width=".45" fill="none" stroke="#151515" stroke-linejoin="round" stroke-linecap="round"/>
<path d="M579.2 269.9Q583 270.4 585.8 274.4Q588.8 279.6 589.2 286.6Q589.4 294.4 586.4 300.8Q585 303.4 583 304.4L565 320.6Q562 324.2 559.2 324.4Q556.4 323.8 554.8 321Q553.4 318.8 553.6 316.6L574.6 272.8Q576.6 270.2 579.2 269.9Z" stroke-width=".95" fill="#fff" stroke="#151515" stroke-linejoin="round"/>
<ellipse cx="581.80" cy="286.30" rx="5.10" ry="10.30" transform="rotate(-10.00 581.80 286.30)" stroke-width=".9" fill="#fff" stroke="#151515" stroke-linejoin="round"/>
<ellipse cx="582.30" cy="286.50" rx="4.30" ry="9.20" transform="rotate(-10.00 582.30 286.50)" stroke-width=".4" fill="none" stroke="#151515" stroke-linejoin="round" stroke-linecap="round"/>
<path d="M575.2 275.6L555.6 316.6Q555.4 319.6 557.4 321.6M577.6 305L558.6 321.8M576.2 303.6L557.6 320.4M574.8 302.4L556.8 318.8" stroke-width=".55" fill="none" stroke="#151515" stroke-linejoin="round" stroke-linecap="round"/>
<path d="M577.6 305L578.6 299.6L580.4 296.4" stroke-width=".4" fill="none" stroke="#151515" stroke-linejoin="round" stroke-linecap="round"/>
<g fill="#333"><circle cx="581.6" cy="273.8" r=".55"/><circle cx="587.6" cy="289" r=".55"/><circle cx="582" cy="298.6" r=".55"/><circle cx="575.6" cy="281.6" r=".55"/><circle cx="577.4" cy="291.6" r=".55"/><circle cx="585.6" cy="301.6" r=".55"/></g>
<g transform="translate(591.5 271.7) rotate(-8) scale(1.08)"><path d="M.2 1L-2.7 .9L-2.7 -.9L.2 -1Z" fill="#a01418" stroke="#2a0404" stroke-width=".5"/><path d="M-.7 -1V1M-1.6 -1V1" fill="none" stroke="#2a0404" stroke-width=".45"/><path d="M2.5 -1.7Q3.1 0 2.5 1.7L.2 1.7L.2 -1.7Z" fill="#ec2028" stroke="#2a0404" stroke-width=".5"/></g>
<g transform="translate(553.6 282.2) rotate(-8) scale(1.08)"><path d="M.2 1L-2.7 .9L-2.7 -.9L.2 -1Z" fill="#a01418" stroke="#2a0404" stroke-width=".5"/><path d="M-.7 -1V1M-1.6 -1V1" fill="none" stroke="#2a0404" stroke-width=".45"/><path d="M2.5 -1.7Q3.1 0 2.5 1.7L.2 1.7L.2 -1.7Z" fill="#ec2028" stroke="#2a0404" stroke-width=".5"/></g>
<g transform="translate(557.3 286.5) rotate(-8) scale(1.08)"><path d="M.2 1L-2.7 .9L-2.7 -.9L.2 -1Z" fill="#a01418" stroke="#2a0404" stroke-width=".5"/><path d="M-.7 -1V1M-1.6 -1V1" fill="none" stroke="#2a0404" stroke-width=".45"/><path d="M2.5 -1.7Q3.1 0 2.5 1.7L.2 1.7L.2 -1.7Z" fill="#ec2028" stroke="#2a0404" stroke-width=".5"/></g>
<g transform="translate(558.2 296.2) rotate(-8) scale(1.08)"><path d="M.2 1L-2.7 .9L-2.7 -.9L.2 -1Z" fill="#a01418" stroke="#2a0404" stroke-width=".5"/><path d="M-.7 -1V1M-1.6 -1V1" fill="none" stroke="#2a0404" stroke-width=".45"/><path d="M2.5 -1.7Q3.1 0 2.5 1.7L.2 1.7L.2 -1.7Z" fill="#ec2028" stroke="#2a0404" stroke-width=".5"/></g>
<g transform="translate(596.0 287.6) rotate(-8) scale(1.08)"><path d="M.2 1L-2.7 .9L-2.7 -.9L.2 -1Z" fill="#a01418" stroke="#2a0404" stroke-width=".5"/><path d="M-.7 -1V1M-1.6 -1V1" fill="none" stroke="#2a0404" stroke-width=".45"/><path d="M2.5 -1.7Q3.1 0 2.5 1.7L.2 1.7L.2 -1.7Z" fill="#ec2028" stroke="#2a0404" stroke-width=".5"/></g>
<g transform="translate(594.0 294.9) rotate(-8) scale(1.08)"><path d="M.2 1L-2.7 .9L-2.7 -.9L.2 -1Z" fill="#a01418" stroke="#2a0404" stroke-width=".5"/><path d="M-.7 -1V1M-1.6 -1V1" fill="none" stroke="#2a0404" stroke-width=".45"/><path d="M2.5 -1.7Q3.1 0 2.5 1.7L.2 1.7L.2 -1.7Z" fill="#ec2028" stroke="#2a0404" stroke-width=".5"/></g>
<g transform="translate(580.5 312.7) rotate(-8) scale(1.08)"><path d="M.2 1L-2.7 .9L-2.7 -.9L.2 -1Z" fill="#a01418" stroke="#2a0404" stroke-width=".5"/><path d="M-.7 -1V1M-1.6 -1V1" fill="none" stroke="#2a0404" stroke-width=".45"/><path d="M2.5 -1.7Q3.1 0 2.5 1.7L.2 1.7L.2 -1.7Z" fill="#ec2028" stroke="#2a0404" stroke-width=".5"/></g>
<g transform="translate(580.5 318.9) rotate(-8) scale(1.08)"><path d="M.2 1L-2.7 .9L-2.7 -.9L.2 -1Z" fill="#a01418" stroke="#2a0404" stroke-width=".5"/><path d="M-.7 -1V1M-1.6 -1V1" fill="none" stroke="#2a0404" stroke-width=".45"/><path d="M2.5 -1.7Q3.1 0 2.5 1.7L.2 1.7L.2 -1.7Z" fill="#ec2028" stroke="#2a0404" stroke-width=".5"/></g>
<!-- 62_part10.svg -->
<g fill="#fab982" stroke="#2e1c0e" stroke-width=".7" stroke-linejoin="round">
  <!-- cap -->
  <path d="M448.6 430.6Q448.4 426.4 451.8 424.4L453.8 423.8L454.4 425.8L456.6 426.2L457 424.6Q460.6 426 461.2 430.4Q461.4 435 458.8 437.2Q454.8 438.6 451.6 436.8Q449 434.6 448.6 430.6Z"/>
  <!-- b -->
  <path d="M463 424.2L464.4 422.8L467.6 423.4L469 425.2L469.2 433.6L467.6 435.4L464 435L463 433.4Z"/>
  <path d="M464.4 422.8L464.8 434.6M463.4 427.6L469 427.2M463.4 431.6L469 431.2" fill="none" stroke-width=".4"/>
  <!-- c -->
  <path d="M472 422.2L473.6 420.8L477.4 421.4L478.8 423.2L478.8 431.4L477.2 433.2L473.2 432.8L472 431Z"/>
  <path d="M473.6 420.8L474 432.6M476.6 422.6V431.6" fill="none" stroke-width=".4"/>
  <!-- d -->
  <path d="M481.4 421.6Q483.4 418.4 487.6 418.2Q491.8 418.8 493.4 422.6Q494.4 426.6 492.8 430Q490.6 432.6 487 432.4L482.4 431.6Q481.2 430.6 481.2 428.6Z"/>
  <path d="M483.6 422.4L489.6 422L490.2 429.4L484.2 429.8Z" fill="#3a2414" stroke-width=".4"/>
  <path d="M485.4 423.6L488.2 423.4L488.6 428L485.8 428.2Z" fill="#fab982" stroke-width=".3"/>
  <path d="M481.4 421.6L483.6 422.4M490.2 429.4L492.8 430" fill="none" stroke-width=".4"/>
</g>
<g fill="#8a5a3c" stroke="#3a2010" stroke-width=".45">
  <path d="M495.6 420.2L501.6 419.2L501.5 418.4L503.2 418.2Q503.8 419.4 503.4 420.8L501.8 421L501.7 420.4L495.8 421.3Z"/>
  <path d="M499.2 424.2L505.4 423.2L505.3 422.4L507 422.2Q507.6 423.4 507.2 424.8L505.6 425L505.5 424.4L499.4 425.3Z"/>
</g>
<!-- 80_leaders.svg -->
<g stroke-width=".8" fill="none" stroke="#222">
<path d="M538.5 31L532.6 67.1"/>
<path d="M244.4 158V173"/>
<path d="M261.3 275.2L283.2 302.9"/>
<path d="M235.6 283V334"/>
<path d="M258.5 316.5V336.3"/>
<path d="M546.3 267.4V283.2"/>
<path d="M565.4 322.2V340.5"/>
<path d="M55 353.4H70.5M59.5 379.2H70.5M58.8 401.3H70.5" stroke="#333" stroke-width=".65"/>
<path d="M70.5 353.4V401.3L192.9 380.6V332.9Z" stroke="#333" stroke-width=".65"/>
</g>
<path d="M291.5 179.5L278.5 206.6" fill="none" stroke="#b98ac8" stroke-width="1.1"/>
<path d="M284.1 292.3L290.3 298" fill="none" stroke="#f29ac8" stroke-width="1.3"/>
<path d="M579.4 253.9L591 270.3" fill="none" stroke="#e0262c" stroke-width="1.2"/>
<path d="M515.8 357.6L526.5 369.8" fill="none" stroke="#9aca3b" stroke-width="1.4"/>
<path d="M325.9 417.6V432.4" fill="none" stroke="#6acdf4" stroke-width="1.2"/>
<path d="M444.2 421.1L449 425.8" fill="none" stroke="#f8b888" stroke-width="1.5"/>
<ellipse cx="302.1" cy="311.3" rx="23" ry="14.9" fill="none" stroke="#f29ac8" stroke-width="1.8" transform="rotate(-3 302.1 311.3)"/>
<!-- 90_labels.py -->
<g opacity=".999"><g stroke="#111" stroke-width=".25">
<text transform="translate(532.40 22.33) scale(0.827 1)" font-size="17.32" font-weight="bold" fill="#111">16</text>
<text transform="translate(243.20 154.35) scale(0.738 1)" font-size="14.65" font-weight="bold" fill="#111">3</text>
<text transform="translate(285.70 176.40) scale(0.820 1)" font-size="14.71" font-weight="bold" fill="#111">12</text>
<text transform="translate(253.90 271.02) scale(0.805 1)" font-size="17.57" font-weight="bold" fill="#111">15</text>
<text transform="translate(233.30 279.60) scale(0.757 1)" font-size="15.71" font-weight="bold" fill="#111">2</text>
<text transform="translate(280.70 288.45) scale(0.812 1)" font-size="14.65" font-weight="bold" fill="#111">9</text>
<text transform="translate(256.00 315.10) scale(0.714 1)" font-size="15.65" font-weight="bold" fill="#111">7</text>
<text transform="translate(541.90 264.45) scale(0.809 1)" font-size="14.93" font-weight="bold" fill="#111">8</text>
<text transform="translate(571.20 249.60) scale(0.777 1)" font-size="15.36" font-weight="bold" fill="#111">11</text>
<text transform="translate(561.90 355.80) scale(0.714 1)" font-size="15.65" font-weight="bold" fill="#111">1</text>
<text transform="translate(529.50 383.74) scale(0.757 1)" font-size="16.06" font-weight="bold" fill="#111">13</text>
<text transform="translate(321.00 446.50) scale(0.794 1)" font-size="14.64" font-weight="bold" fill="#111">14</text>
<text transform="translate(431.70 417.95) scale(0.851 1)" font-size="14.51" font-weight="bold" fill="#111">10</text>
<text transform="translate(21.70 346.30) scale(0.833 1)" font-size="14.49" font-weight="bold" fill="#111">4</text>
<text transform="translate(21.90 381.24) scale(0.722 1)" font-size="15.71" font-weight="bold" fill="#111">5</text>
<text transform="translate(21.90 413.15) scale(0.753 1)" font-size="15.07" font-weight="bold" fill="#111">6</text>
</g>
<g stroke="#111" stroke-width=".15">
<text transform="translate(21.80 356.70) scale(0.903 1)" font-size="8.99" font-weight="bold" fill="#111">(20BAR)</text>
<text transform="translate(21.80 391.40) scale(0.908 1)" font-size="8.99" font-weight="bold" fill="#111">(100BAR)</text>
<text transform="translate(21.80 423.10) scale(0.908 1)" font-size="8.99" font-weight="bold" fill="#111">(150BAR)</text>
</g>
<g stroke="#1c1c1c" stroke-width=".18">
<text transform="translate(442.60 183.50) scale(0.825 1)" font-size="10.58" font-weight="normal" fill="#1c1c1c">mit Anschlüssen (Abbildung beispielhaft)</text>
<text transform="translate(442.64 195.00) scale(0.827 1)" font-size="10.58" font-weight="normal" fill="#1c1c1c">with connections (illustration example)</text>
</g></g>
</svg>
</body>
</html>
